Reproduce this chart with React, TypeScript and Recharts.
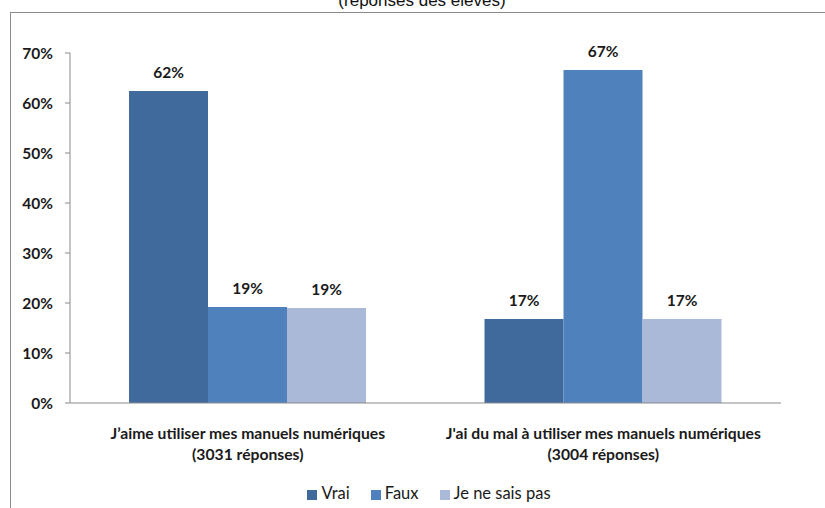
import { BarChart, Bar, XAxis, YAxis, Legend, LabelList } from "recharts";

const categories = [
  "J\u2019aime utiliser mes manuels numériques\n(3031 réponses)",
  "J'ai du mal à utiliser mes manuels numériques\n(3004 réponses)",
];
const vrai = [62.4, 16.8];
const faux = [19.2, 66.6];
const jeNeSaisPas = [19.0, 16.8];
const labelsVrai = ["62%", "17%"];
const labelsFaux = ["19%", "67%"];
const labelsJnsp = ["19%", "17%"];
const yTicks = [0, 10, 20, 30, 40, 50, 60, 70];
const seriesOrder = ["Vrai", "Faux", "Je ne sais pas"];

const data = categories.map((name, i) => ({
  name,
  vrai: vrai[i],
  faux: faux[i],
  jnsp: jeNeSaisPas[i],
  lv: labelsVrai[i],
  lf: labelsFaux[i],
  lj: labelsJnsp[i],
}));

const FONT = "Lato, 'Open Sans', sans-serif";

function CatTick(props: any) {
  const { x, y, payload } = props;
  const lines = String(payload.value).split("\n");
  return (
    <g transform={`translate(${x},${y})`}>
      {lines.map((l, i) => (
        <text
          key={i}
          x={0}
          y={i * 21 + 28}
          textAnchor="middle"
          fontFamily={FONT}
          fontWeight="bold"
          fontSize={15.7}
          fill="#1a1a1a"
        >
          {l}
        </text>
      ))}
    </g>
  );
}

const labelStyle = {
  fontFamily: FONT,
  fontWeight: "bold" as const,
  fontSize: 15.5,
  fill: "#1a1a1a",
};

export default function App() {
  return (
    <div
      style={{
        position: "absolute",
        left: 0,
        top: 0,
        width: 825,
        height: 508,
        overflow: "hidden",
        background: "#fff",
      }}
    >
      <div
        style={{
          position: "absolute",
          left: 10,
          top: 12,
          width: 840,
          height: 520,
          borderLeft: "1.5px solid #8a8a8a",
          borderTop: "1.5px solid #8a8a8a",
        }}
      />
      <div
        style={{
          position: "absolute",
          left: 0,
          width: 844,
          top: -8,
          textAlign: "center",
          fontFamily: "'Liberation Sans', Arial, sans-serif",
          fontSize: 17,
          lineHeight: 1,
          color: "#111",
        }}
      >
        (réponses des élèves)
      </div>
      <div style={{ position: "absolute", left: 0, top: 0 }}>
        <BarChart
          width={825}
          height={508}
          data={data}
          barCategoryGap="16.6%"
          barGap={0}
          margin={{ top: 53, right: 44, left: 10, bottom: 15 }}
        >
          <XAxis
            dataKey="name"
            tick={<CatTick />}
            tickLine={false}
            axisLine={{ stroke: "#8a8a8a" }}
            height={70}
            interval={0}
          />
          <XAxis
            xAxisId="b"
            type="number"
            domain={[0, 2]}
            ticks={[0, 1, 2]}
            tick={false}
            tickSize={5}
            tickLine={{ stroke: "#8a8a8a" }}
            axisLine={false}
            height={0}
          />
          <YAxis
            domain={[0, 70]}
            ticks={yTicks}
            tickFormatter={(v: number) => `${v}%`}
            width={60}
            tickSize={5}
            tickMargin={12}
            tickLine={{ stroke: "#8a8a8a" }}
            axisLine={{ stroke: "#8a8a8a" }}
            tick={{
              fontFamily: FONT,
              fontWeight: "bold",
              fontSize: 15.5,
              fill: "#1a1a1a",
            }}
          />
          <Legend
            verticalAlign="bottom"
            align="center"
            iconType="square"
            iconSize={10}
            itemSorter={(item: any) => seriesOrder.indexOf(item.value)}
            wrapperStyle={{
              fontFamily: FONT,
              fontSize: 16.5,
              color: "#1a1a1a",
              bottom: 5,
              paddingLeft: 44,
            }}
            formatter={(value: string) => (
              <span style={{ color: "#1a1a1a", marginRight: 11 }}>{value}</span>
            )}
          />
          <Bar dataKey="vrai" name="Vrai" fill="#416a9c" isAnimationActive={false}>
            <LabelList dataKey="lv" position="top" offset={13} style={labelStyle} />
          </Bar>
          <Bar dataKey="faux" name="Faux" fill="#4f81bd" isAnimationActive={false}>
            <LabelList dataKey="lf" position="top" offset={13} style={labelStyle} />
          </Bar>
          <Bar dataKey="jnsp" name="Je ne sais pas" fill="#aab9d7" isAnimationActive={false}>
            <LabelList dataKey="lj" position="top" offset={13} style={labelStyle} />
          </Bar>
        </BarChart>
      </div>
    </div>
  );
}
